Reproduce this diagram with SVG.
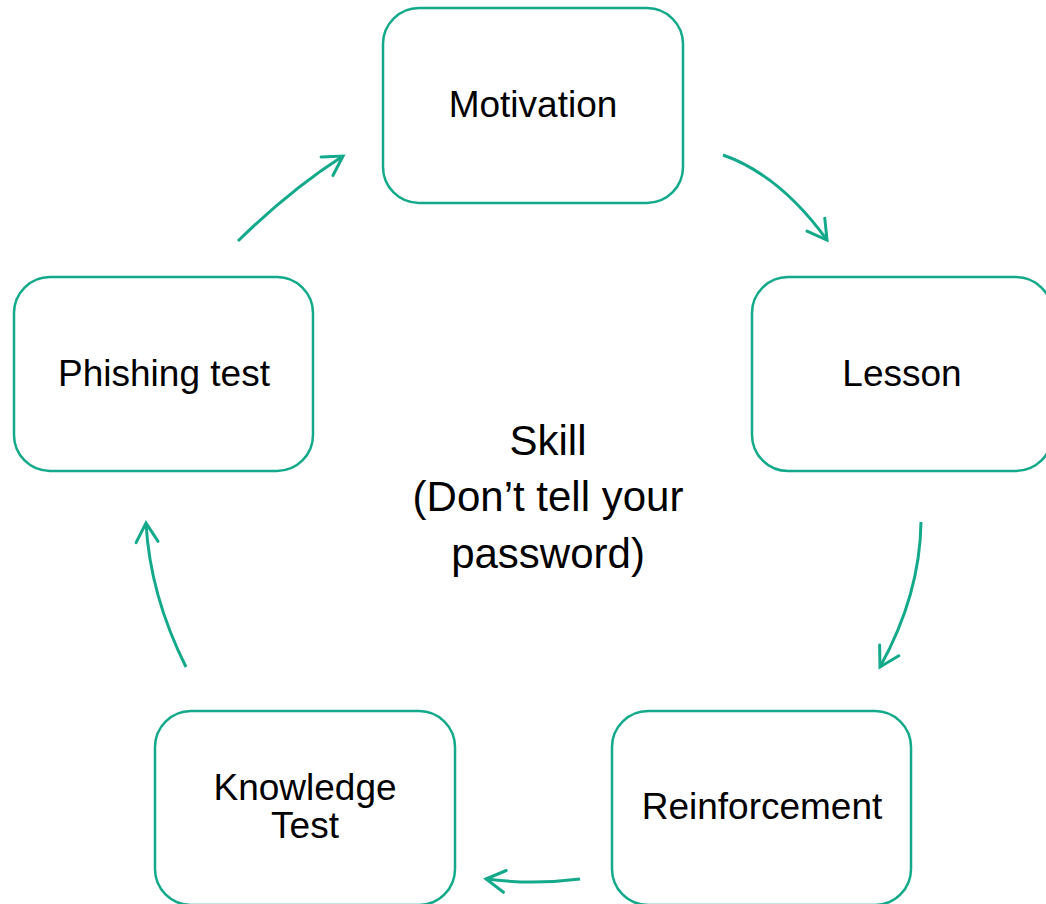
<svg xmlns="http://www.w3.org/2000/svg" width="1046" height="904" viewBox="0 0 1046 904">
  <style>
    .box { fill: #ffffff; stroke: #14A98B; stroke-width: 2.5; }
    .lbl { font-family: "Liberation Sans", Arial, sans-serif; font-size: 37px; fill: #000000; text-anchor: middle; }
    .center { font-family: "Liberation Sans", Arial, sans-serif; font-size: 42px; fill: #000000; text-anchor: middle; }
    .conn { fill: none; stroke: #14A98B; stroke-width: 3; marker-end: url(#arrow); }
  </style>
  <defs>
    <marker id="arrow" markerUnits="userSpaceOnUse" markerWidth="30" markerHeight="30" viewBox="-24 -15 30 30" refX="0" refY="0" orient="auto">
      <path d="M-19,-11 L0,0 L-19,11" fill="none" stroke="#14A98B" stroke-width="3" stroke-linecap="round" stroke-linejoin="miter"/>
    </marker>
  </defs>
  <rect width="1046" height="904" fill="#ffffff"/>

  <g id="motivation">
    <rect class="box" x="383" y="8" width="300" height="195" rx="36" ry="36"/>
    <text class="lbl" x="533" y="117">Motivation</text>
  </g>
  <g id="lesson">
    <rect class="box" x="752" y="277" width="300" height="194" rx="36" ry="36"/>
    <text class="lbl" x="902" y="386">Lesson</text>
  </g>
  <g id="reinforcement">
    <rect class="box" x="612" y="711" width="299" height="194" rx="36" ry="36"/>
    <text class="lbl" x="762" y="819">Reinforcement</text>
  </g>
  <g id="knowledge-test">
    <rect class="box" x="155" y="711" width="300" height="194" rx="36" ry="36"/>
    <text class="lbl" x="305" y="800">Knowledge</text>
    <text class="lbl" x="305" y="838">Test</text>
  </g>
  <g id="phishing-test">
    <rect class="box" x="14" y="277" width="299" height="194" rx="36" ry="36"/>
    <text class="lbl" x="164" y="386">Phishing test</text>
  </g>
  <g id="skill">
    <text class="center" x="548" y="455">Skill</text>
    <text class="center" x="548" y="511">(Don’t tell your</text>
    <text class="center" x="548" y="568">password)</text>
  </g>

  <g id="connectors">
    <path class="conn" d="M238,241 Q290,190 343,156"/>
    <path class="conn" d="M723,155 Q780,175 827,240"/>
    <path class="conn" d="M921,522 Q920,595 880,667"/>
    <path class="conn" d="M580,879 Q533,885 486,879"/>
    <path class="conn" d="M186,667 Q150,595 146,523"/>
  </g>
</svg>
